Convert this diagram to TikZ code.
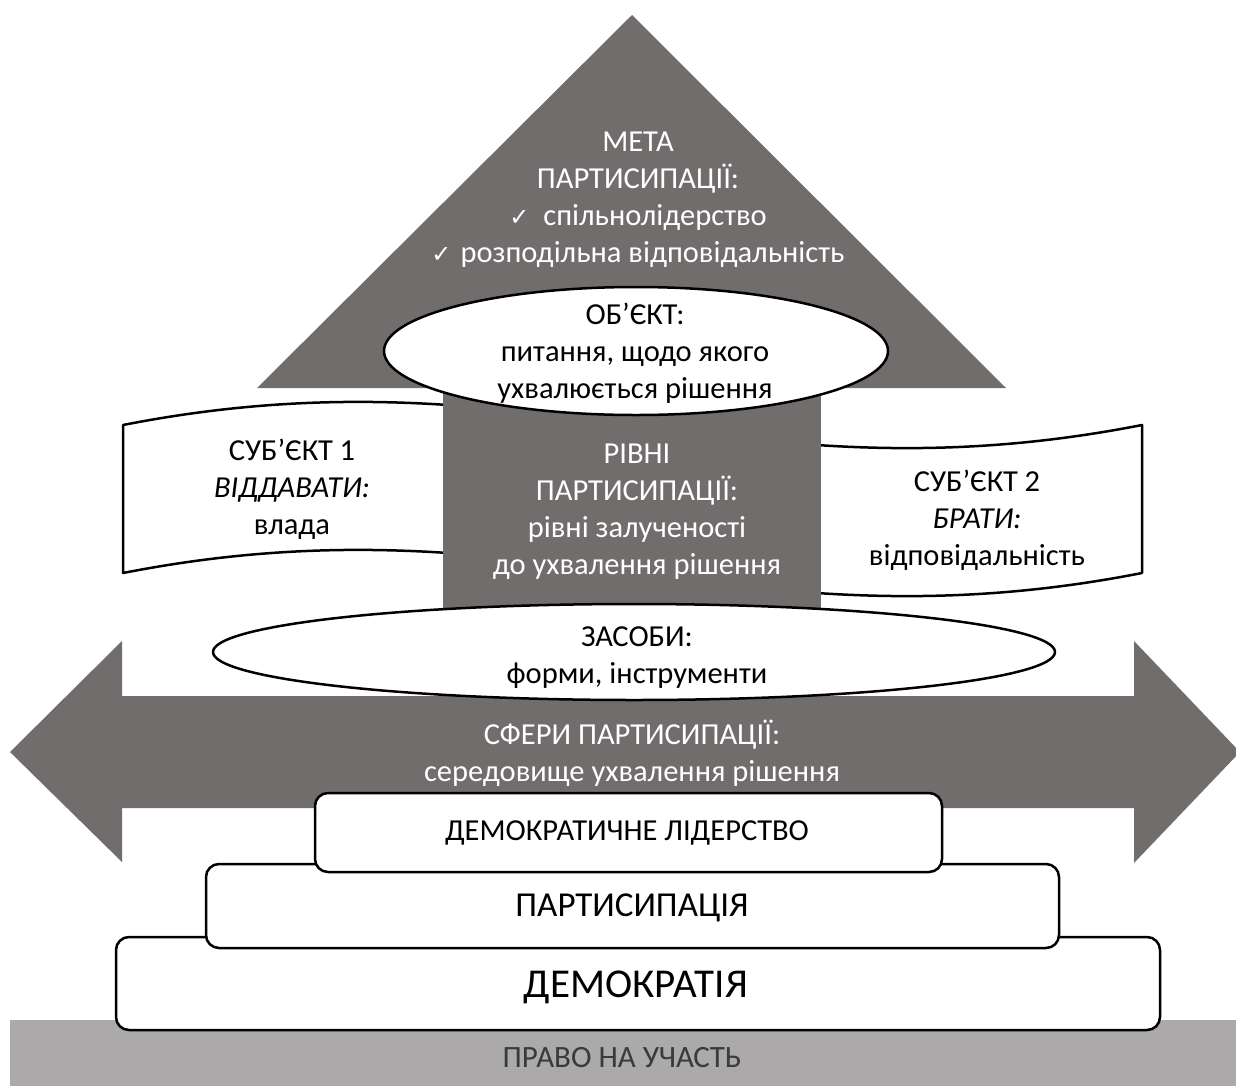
\documentclass[tikz,border=0pt]{standalone}
\usepackage{fontspec}
\setmainfont{Carlito}
\newfontfamily\symf{DejaVu Sans}
\definecolor{darkg}{HTML}{716D6D}
\definecolor{lightg}{HTML}{ABA9A9}
\definecolor{groundtxt}{HTML}{3A3A3A}
\begin{document}
\begin{tikzpicture}[x=1bp, y=-1bp, line width=2.5bp, line join=round,
  txt/.style={font=\fontsize{30.5bp}{37bp}\selectfont, align=center, inner sep=0pt},
  wtxt/.style={txt, text=white},
  outline/.style={draw=black, fill=white},
  layerbox/.style={draw=black, fill=white, rounded corners=13bp}]
\useasboundingbox (0,0) rectangle (1236,1086);
\clip (0,0) rectangle (1236,1086);

% ground
\fill[lightg] (10,1020) rectangle (1240,1090);
% double arrow
\fill[darkg] (10,752) -- (122,641) -- (122,696) -- (1134,696) -- (1134,641)
  -- (1240,752) -- (1134,863) -- (1134,808) -- (122,808) -- (122,862) -- cycle;
% roof triangle
\fill[darkg] (632,15) -- (1006,388) -- (257,388) -- cycle;
% wave banner (subjects)
\draw[outline] (123,425) .. controls (531,345) and (734,505) .. (1142,425)
  -- (1142,573) .. controls (734,653) and (531,493) .. (123,573) -- cycle;
% column
\fill[darkg] (443,385) rectangle (821,610);
% object ellipse
\draw[outline] (636,351) ellipse [x radius=252, y radius=64];
% means ellipse
\draw[outline] (634,652) ellipse [x radius=421, y radius=48];
% layered boxes
\draw[layerbox] (116,937) rectangle (1160,1030);
\draw[layerbox] (206,864) rectangle (1059,948);
\draw[layerbox] (315,793) rectangle (942,872);

% texts
\node[wtxt] (meta) at (638,200) {МЕТА\\ПАРТИСИПАЦІЇ:\\{\symf\fontsize{24bp}{24bp}\selectfont ✓}\hspace{14bp}спільнолідерство\\{\symf\fontsize{24bp}{24bp}\selectfont ✓}\hspace{9bp}розподільна відповідальність};
\node[txt] (obj) at (635,353) {ОБ’ЄКТ:\\питання, щодо якого\\ухвалюється рішення};
\node[wtxt] (levels) at (637,512) {РІВНІ\\ПАРТИСИПАЦІЇ:\\рівні залученості\\до ухвалення рішення};
\node[txt] (subj1) at (292,489) {СУБ’ЄКТ 1\\\textit{ВІДДАВАТИ:}\\влада};
\node[txt] (subj2) at (977,520) {СУБ’ЄКТ 2\\\textit{БРАТИ:}\\відповідальність};
\node[txt] (means) at (637,658) {ЗАСОБИ:\\форми, інструменти};
\node[wtxt] (spheres) at (632,753) {СФЕРИ ПАРТИСИПАЦІЇ:\\середовище ухвалення рішення};
\node[txt] (demlead) at (627,833) {ДЕМОКРАТИЧНЕ ЛІДЕРСТВО};
\node[txt, font=\fontsize{35bp}{40bp}\selectfont] (partic) at (632,908) {ПАРТИСИПАЦІЯ};
\node[txt, font=\fontsize{41bp}{46bp}\selectfont] (democ) at (636,987) {ДЕМОКРАТІЯ};
\node[txt, font=\fontsize{31bp}{37bp}\selectfont, text=groundtxt] (right) at (622,1058) {ПРАВО НА УЧАСТЬ};
\end{tikzpicture}
\end{document}
